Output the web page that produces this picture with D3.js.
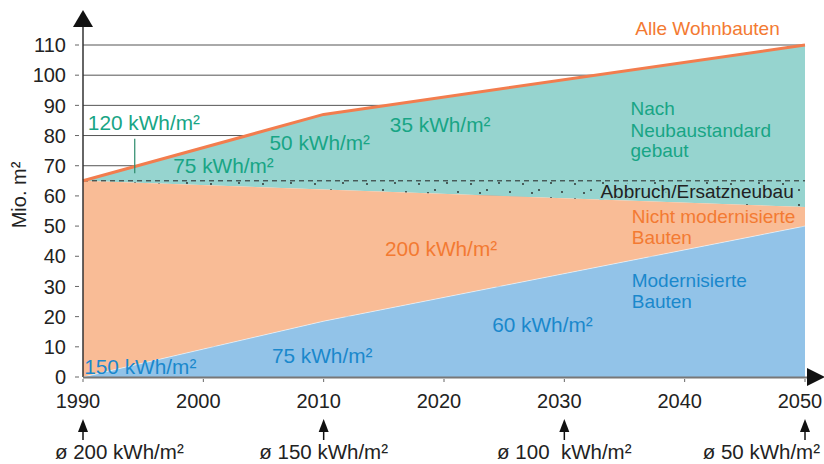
<!DOCTYPE html>
<html><head><meta charset="utf-8">
<script src="https://cdn.jsdelivr.net/npm/d3@7"></script>
<style>
body{margin:0;background:#fff}
svg{display:block;font-family:"Liberation Sans",Arial,Helvetica,sans-serif}
</style>
</head><body>
<svg id="chart" width="824" height="464"></svg>
<script>
// ---- data ----
const years = [1990, 2010, 2050];
const alleWohnbauten = [65, 87, 110];
const nichtModernisiertTop = [65, 62.1, 56.3];
const modernisiert = [0, 18.5, 50];
const abbruchLevel = [65, 65, 65];
const yTicks = [0, 10, 20, 30, 40, 50, 60, 70, 80, 90, 100, 110];
const xTicks = [1990, 2000, 2010, 2020, 2030, 2040, 2050];
const markerYears = [1990, 2010, 2030, 2050];
const markerLabels = ["ø 200 kWh/m²", "ø 150 kWh/m²", "ø 100  kWh/m²", "ø 50 kWh/m²"];
const teal = "#96d4cf", orangeFill = "#f9bc96", blueFill = "#92c3e8";
const tealText = "#18a585", orangeText = "#f37a32", blueText = "#1a88cc", orangeLine = "#f27d4e";
// annotation labels: [text, year, value, color]
const labels = [
  ["120 kWh/m²", 1990.4, 81.8, tealText],
  ["75 kWh/m²", 1997.5, 67.6, tealText],
  ["50 kWh/m²", 2005.5, 75.2, tealText],
  ["35 kWh/m²", 2015.5, 81.2, tealText],
  ["Nach", 2035.5, 86.8, tealText],
  ["Neubaustandard", 2035.5, 79.6, tealText],
  ["gebaut", 2035.5, 72.9, tealText],
  ["Alle Wohnbauten", 2035.9, 113.3, orangeText],
  ["Nicht modernisierte", 2035.6, 51.0, orangeText],
  ["Bauten", 2035.6, 44.1, orangeText],
  ["Modernisierte", 2035.6, 29.8, blueText],
  ["Bauten", 2035.6, 22.9, blueText],
  ["200 kWh/m²", 2015.1, 40.1, orangeText],
  ["60 kWh/m²", 2024.0, 14.9, blueText],
  ["75 kWh/m²", 2005.7, 4.6, blueText],
  ["150 kWh/m²", 1990.1, 1.0, blueText]
];
const abbruchLabel = ["Abbruch/Ersatzneubau", 2033.0, 59.3];
const pointer120 = {year: 1994.3, from: 67.5, to: 78.9};

// ---- scales ----
const x = d3.scaleLinear().domain([1990, 2050]).range([83, 805]);
const y = d3.scaleLinear().domain([0, 110]).range([377, 45]);
const svg = d3.select("#chart");

const rows = years.map((yr, i) => ({yr, alle: alleWohnbauten[i], nm: nichtModernisiertTop[i], mod: modernisiert[i], ab: abbruchLevel[i]}));

// dots pattern
const defs = svg.append("defs");
const pat = defs.append("pattern").attr("id", "dots").attr("patternUnits", "userSpaceOnUse")
  .attr("width", 52).attr("height", 15);
[[3,4],[19,10],[31,3],[42,12],[12,13]].forEach(p =>
  pat.append("circle").attr("cx", p[0]).attr("cy", p[1]).attr("r", 0.9).attr("fill", "#222"));

// grid lines
svg.append("g").selectAll("line").data(yTicks.filter(d => d > 0)).join("line")
  .attr("x1", x(1990)).attr("x2", x(2050))
  .attr("y1", d => y(d)).attr("y2", d => y(d))
  .attr("stroke", "#555").attr("stroke-width", 1);

// areas
svg.append("path").datum(rows).attr("fill", teal)
  .attr("d", d3.area().x(d => x(d.yr)).y0(d => y(d.nm)).y1(d => y(d.alle)));
svg.append("path").datum(rows).attr("fill", orangeFill)
  .attr("d", d3.area().x(d => x(d.yr)).y0(d => y(d.mod)).y1(d => y(d.nm)));
svg.append("path").datum(rows).attr("fill", blueFill)
  .attr("d", d3.area().x(d => x(d.yr)).y0(y(0)).y1(d => y(d.mod)));
svg.append("path").datum(rows).attr("fill", "url(#dots)")
  .attr("d", d3.area().x(d => x(d.yr)).y0(d => y(d.nm)).y1(d => y(d.ab)));
svg.append("path").datum(rows).attr("fill", "none").attr("stroke", "#fff").attr("stroke-width", 0.8).attr("opacity", 0.7)
  .attr("d", d3.line().x(d => x(d.yr)).y(d => y(d.mod)));

// dashed line
svg.append("path").datum(rows).attr("fill", "none").attr("stroke", "#222").attr("stroke-width", 1)
  .attr("stroke-dasharray", "5,4")
  .attr("d", d3.line().x(d => x(d.yr)).y(d => y(d.ab)));

// total line
svg.append("path").datum(rows).attr("fill", "none").attr("stroke", orangeLine).attr("stroke-width", 3)
  .attr("stroke-linejoin", "round")
  .attr("d", d3.line().x(d => x(d.yr)).y(d => y(d.alle)));

// pointer line for 120
svg.append("line").attr("x1", x(pointer120.year)).attr("x2", x(pointer120.year))
  .attr("y1", y(pointer120.from)).attr("y2", y(pointer120.to))
  .attr("stroke", "#2a8a6a").attr("stroke-width", 1.2);

// y axis
const ya = svg.append("g");
ya.append("line").attr("x1", x(1990)).attr("x2", x(1990)).attr("y1", y(0)).attr("y2", 24)
  .attr("stroke", "#333").attr("stroke-width", 1.5);
ya.append("path").attr("d", `M${x(1990)-10},27 L${x(1990)+10},27 L${x(1990)},10 Z`).attr("fill", "#111");
ya.selectAll("line.t").data(yTicks).join("line").attr("class", "t")
  .attr("x1", x(1990) - 8).attr("x2", x(1990) - 4)
  .attr("y1", d => y(d)).attr("y2", d => y(d)).attr("stroke", "#666").attr("stroke-width", 1);
ya.selectAll("text").data(yTicks).join("text")
  .attr("x", x(1990) - 17).attr("y", d => y(d)).attr("dy", "0.36em")
  .attr("text-anchor", "end").attr("font-size", 20).attr("fill", "#222").text(d => d);
svg.append("text").attr("transform", `translate(26,195) rotate(-90)`)
  .attr("text-anchor", "middle").attr("font-size", 20).attr("fill", "#222").text("Mio. m²");

// x axis
const xa = svg.append("g");
xa.append("line").attr("x1", x(1990)).attr("x2", 808).attr("y1", y(0) + 0.5).attr("y2", y(0) + 0.5)
  .attr("stroke", "#777").attr("stroke-width", 2.2);
xa.append("path").attr("d", `M807,368 L807,386 L825,377 Z`).attr("fill", "#111");
xa.selectAll("line.t").data(xTicks).join("line").attr("class", "t")
  .attr("x1", d => x(d)).attr("x2", d => x(d)).attr("y1", y(0) + 2).attr("y2", y(0) + 5)
  .attr("stroke", "#666").attr("stroke-width", 1);
xa.selectAll("text").data(xTicks).join("text")
  .attr("x", d => x(d) - 5).attr("y", 408)
  .attr("text-anchor", "middle").attr("font-size", 20).attr("fill", "#222").text(d => d);

// bottom markers
const anchors = ["start", "middle", "middle", "end"];
const dxs = [-28, 0, 0, 15];
const mk = svg.append("g");
markerYears.forEach((yr, i) => {
  const cx = x(yr);
  mk.append("path").attr("d", `M${cx-5},432 L${cx+5},432 L${cx},419 Z`).attr("fill", "#111");
  mk.append("line").attr("x1", cx).attr("x2", cx).attr("y1", 431).attr("y2", 440)
    .attr("stroke", "#111").attr("stroke-width", 1.5);
  mk.append("text").attr("x", cx + dxs[i]).attr("y", 459).attr("text-anchor", anchors[i])
    .attr("font-size", 20.5).attr("fill", "#222").style("white-space", "pre").text(markerLabels[i]);
});

// labels
svg.append("g").selectAll("text").data(labels).join("text")
  .attr("x", d => x(d[1])).attr("y", d => y(d[2]))
  .attr("font-size", d => d[0].includes("kWh") ? 20.8 : 19)
  .attr("fill", d => d[3]).text(d => d[0]);
svg.append("text").attr("x", x(abbruchLabel[1])).attr("y", y(abbruchLabel[2]))
  .attr("font-size", 19).attr("fill", "#222")
  .attr("stroke", teal).attr("stroke-width", 4).attr("paint-order", "stroke").attr("stroke-linejoin", "round")
  .text(abbruchLabel[0]);
</script>
</body></html>
